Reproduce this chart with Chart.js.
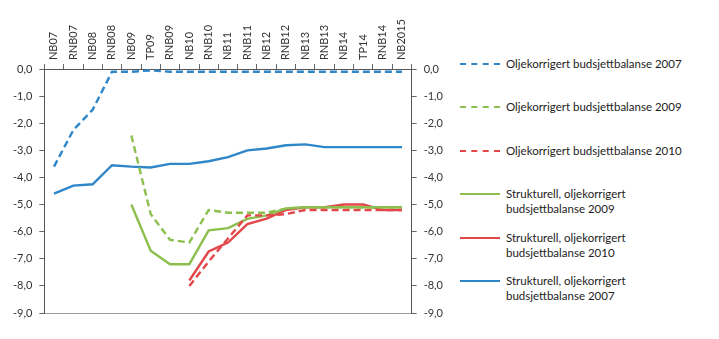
<!DOCTYPE html>
<html>
<head>
<meta charset="utf-8">
<script src="https://cdn.jsdelivr.net/npm/chart.js@4"></script>
<style>
    body { margin: 0; background: #fff; font-family: Lato, sans-serif; }
    #wrap { position: absolute; left: 0; top: 0; width: 456px; height: 339px; }
    #legend { position: absolute; left: 460px; top: 56px; font-size: 11.5px; color: #222; }
    .item { position: absolute; left: 0; width: 260px; line-height: 15px; }
    .item .swatch { position: absolute; left: 0; top: 7px; width: 40px; height: 0; }
    .item .txt { position: absolute; left: 46px; top: 0; white-space: nowrap; }
</style>
</head>
<body>
<div id="wrap"><canvas id="chart"></canvas></div>
<div id="legend"></div>
<script>
// Categories (top axis)
const categories = ['NB07', 'RNB07', 'NB08', 'RNB08', 'NB09', 'TP09', 'RNB09', 'NB10', 'RNB10', 'NB11',
    'RNB11', 'NB12', 'RNB12', 'NB13', 'RNB13', 'NB14', 'TP14', 'RNB14', 'NB2015'];

// Series values (per cent), null where the series has no value
const olje2007 = [-3.6, -2.25, -1.5, -0.1, -0.1, -0.05, -0.1, -0.1, -0.1, -0.1,
    -0.1, -0.1, -0.1, -0.1, -0.1, -0.1, -0.1, -0.1, -0.1];
const olje2009 = [null, null, null, null, -2.45, -5.35, -6.3, -6.4, -5.2, -5.3,
    -5.3, -5.3, -5.15, -5.1, -5.1, -5.1, -5.1, -5.1, -5.1];
const olje2010 = [null, null, null, null, null, null, null, -8.0, -7.1, -6.25,
    -5.4, -5.4, -5.35, -5.2, -5.2, -5.2, -5.2, -5.2, -5.2];
const strukt2009 = [null, null, null, null, -5.0, -6.7, -7.2, -7.2, -5.95, -5.87,
    -5.53, -5.4, -5.14, -5.1, -5.1, -5.1, -5.1, -5.1, -5.1];
const strukt2010 = [null, null, null, null, null, null, null, -7.8, -6.73, -6.4,
    -5.72, -5.52, -5.2, -5.1, -5.1, -5.0, -5.0, -5.2, -5.2];
const strukt2007 = [-4.6, -4.3, -4.25, -3.55, -3.6, -3.63, -3.5, -3.5, -3.4, -3.25,
    -3.0, -2.93, -2.81, -2.78, -2.88, -2.88, -2.88, -2.88, -2.88];

// Axis range
const yMin = -9;
const yMax = 0;

const BLUE = '#2f86c8';
const GREEN = '#8cbf4e';
const RED = '#e2474a';
const DASH = [7, 4];

const series = [
    { label: ['Oljekorrigert budsjettbalanse 2007'], data: olje2007, color: BLUE, dash: DASH },
    { label: ['Oljekorrigert budsjettbalanse 2009'], data: olje2009, color: GREEN, dash: DASH },
    { label: ['Oljekorrigert budsjettbalanse 2010'], data: olje2010, color: RED, dash: DASH },
    { label: ['Strukturell, oljekorrigert', 'budsjettbalanse 2009'], data: strukt2009, color: GREEN, dash: [] },
    { label: ['Strukturell, oljekorrigert', 'budsjettbalanse 2010'], data: strukt2010, color: RED, dash: [] },
    { label: ['Strukturell, oljekorrigert', 'budsjettbalanse 2007'], data: strukt2007, color: BLUE, dash: [] }
];

const fmt = v => Number(v).toFixed(1).replace('.', ',').replace('-0,0', '0,0');
const tickFont = { family: 'Lato, sans-serif', size: 11 };

function yAxis(position) {
    return {
        type: 'linear',
        position: position,
        min: yMin,
        max: yMax,
        ticks: { stepSize: 1, color: '#333', font: tickFont, padding: 7, callback: fmt },
        grid: { drawOnChartArea: false, drawTicks: true, tickLength: 5, color: '#666' },
        border: { display: true, color: '#555', width: 1 }
    };
}

new Chart(document.getElementById('chart'), {
    type: 'line',
    data: {
        labels: categories,
        datasets: series.map(s => ({
            label: s.label.join(' '),
            data: s.data,
            borderColor: s.color,
            backgroundColor: s.color,
            borderDash: s.dash,
            borderWidth: 2.4,
            pointRadius: 0,
            tension: 0,
            spanGaps: false,
            yAxisID: 'y'
        }))
    },
    options: {
        responsive: true,
        maintainAspectRatio: false,
        animation: false,
        layout: { padding: { left: 6, right: 6, top: 15, bottom: 26 } },
        scales: {
            x: {
                type: 'category',
                position: 'top',
                offset: true,
                ticks: { color: '#333', font: tickFont, minRotation: 90, maxRotation: 90, padding: 4,
                    autoSkip: false, labelOffset: 13 },
                grid: { offset: true, drawOnChartArea: false, drawTicks: true, tickLength: 5, color: '#666' },
                border: { display: true, color: '#555', width: 1 }
            },
            x2: {
                type: 'category',
                position: 'bottom',
                offset: true,
                ticks: { display: false },
                grid: { display: false, drawTicks: false },
                border: { display: true, color: '#999', width: 1 }
            },
            y: yAxis('left'),
            y2: yAxis('right')
        },
        plugins: {
            legend: { display: false },
            tooltip: { enabled: false }
        }
    }
});

// HTML legend built from the same series list
const legend = document.getElementById('legend');
series.forEach((s, i) => {
    const item = document.createElement('div');
    item.className = 'item';
    item.style.top = (i * 43.4) + 'px';
    const border = s.dash.length ? 'dashed' : 'solid';
    item.innerHTML = `<div class="swatch" style="border-top: 2.4px ${border} ${s.color}"></div>` +
        `<div class="txt">${s.label.join('<br>')}</div>`;
    legend.appendChild(item);
});
</script>
</body>
</html>
